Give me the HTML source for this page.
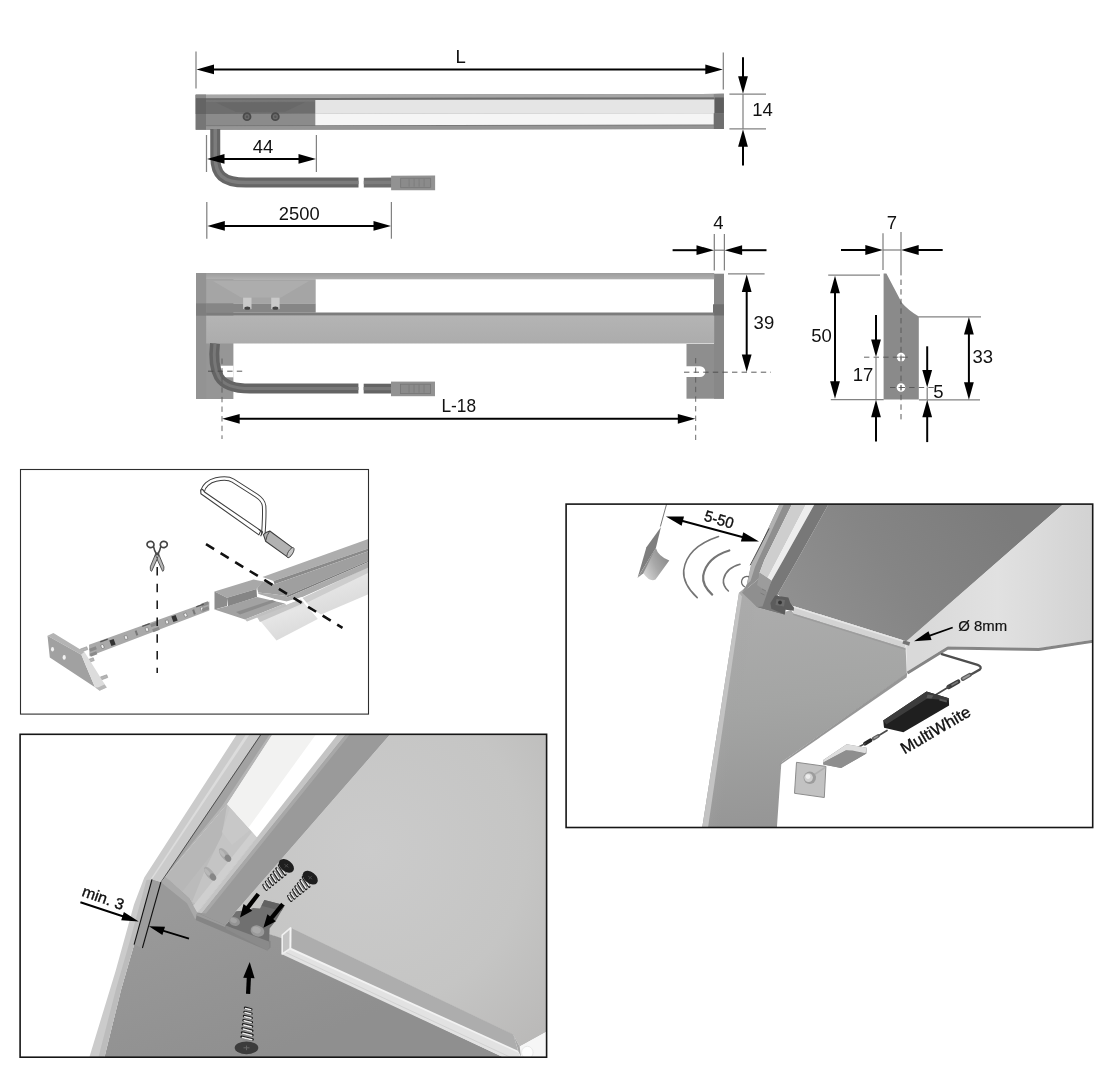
<!DOCTYPE html>
<html><head><meta charset="utf-8"><title>LED profile mounting diagram</title>
<style>
html,body{margin:0;padding:0;background:#fff;}
body{width:1110px;height:1080px;overflow:hidden;font-family:"Liberation Sans",sans-serif;}
svg{display:block;}
svg text{font-family:"Liberation Sans",sans-serif;fill:#111;}
</style></head><body>
<svg width="1110" height="1080" viewBox="0 0 1110 1080">
<g opacity="0.999">
<defs>
<linearGradient id="gbody" x1="0" y1="0" x2="0" y2="1"><stop offset="0" stop-color="#b4b4b4"/><stop offset="1" stop-color="#acacac"/></linearGradient>
<linearGradient id="gstrip" x1="0" y1="0" x2="0" y2="1"><stop offset="0" stop-color="#9c9c9c"/><stop offset="1" stop-color="#b0b0b0"/></linearGradient>
</defs>
<g id="topview"><g transform="rotate(-0.09 196 112)">
<rect x="195.7" y="94.7" width="528.2" height="35.1" fill="#8a8a8a" />
<rect x="195.7" y="94.7" width="528.2" height="3.5" fill="#a6a6a6" />
<rect x="206.0" y="98.2" width="508.0" height="2.2" fill="#6c6c6c" />
<rect x="206.0" y="100.4" width="109.5" height="13.6" fill="#6e6e6e" />
<rect x="206.0" y="100.4" width="109.5" height="1.4" fill="#7a7a7a" />
<rect x="206.0" y="114.0" width="109.5" height="11.4" fill="#8b8b8b" />
<polygon points="216.0,102.5 305.0,102.5 285.0,112.0 236.0,112.0" fill="#686868" />
<rect x="195.7" y="94.7" width="10.3" height="35.1" fill="#767676" />
<rect x="195.7" y="94.7" width="10.3" height="3.5" fill="#888888" />
<rect x="195.7" y="98.2" width="10.3" height="15.8" fill="#646464" />
<rect x="206.0" y="125.4" width="518.0" height="0.9" fill="#707070" />
<rect x="206.0" y="126.2" width="518.0" height="3.6" fill="#959595" />
<rect x="315.3" y="100.2" width="399.3" height="13.8" fill="#e5e5e5" />
<rect x="315.3" y="114.0" width="398.5" height="11.4" fill="#f5f5f5" />
<rect x="714.6" y="98.0" width="9.3" height="16.0" fill="#5e5e5e" />
<rect x="713.8" y="114.0" width="10.1" height="15.8" fill="#6f6f6f" />
<rect x="713.8" y="94.7" width="10.1" height="3.4" fill="#8c8c8c" />
<circle cx="247.0" cy="116.8" r="4.4" fill="#4a4a4a"/>
<circle cx="247.0" cy="116.8" r="2.6" fill="#6a6a6a"/>
<circle cx="247.0" cy="116.8" r="1.2" fill="#555"/>
<circle cx="275.3" cy="116.8" r="4.4" fill="#4a4a4a"/>
<circle cx="275.3" cy="116.8" r="2.6" fill="#6a6a6a"/>
<circle cx="275.3" cy="116.8" r="1.2" fill="#555"/>
<path d="M215.2 129 V157 C215.2 174 222 182.7 246 182.7 H358.4" fill="none" stroke="#666666" stroke-width="10"/>
<path d="M215.2 129 V157 C215.2 174 222 182.7 246 182.7 H358.4" fill="none" stroke="#7c7c7c" stroke-width="3.5"/>
<rect x="363.7" y="177.9" width="28.0" height="9.8" fill="#6e6e6e" />
<rect x="363.7" y="181.0" width="28.0" height="3.4" fill="#7c7c7c" />
<rect x="391.0" y="176.0" width="44.0" height="14.6" fill="#929292" />
<rect x="400.5" y="178.6" width="30.0" height="9.4" fill="#8b8b8b" stroke="#767676" stroke-width="0.8"/>
<line x1="409.0" y1="179.0" x2="409.0" y2="187.0" stroke="#7a7a7a" stroke-width="0.80" />
<line x1="414.0" y1="179.0" x2="414.0" y2="187.0" stroke="#7a7a7a" stroke-width="0.80" />
<line x1="419.0" y1="179.0" x2="419.0" y2="187.0" stroke="#7a7a7a" stroke-width="0.80" />
<line x1="424.0" y1="179.0" x2="424.0" y2="187.0" stroke="#7a7a7a" stroke-width="0.80" />
</g>
</g>
<line x1="196.0" y1="51.5" x2="196.0" y2="88.5" stroke="#828282" stroke-width="1.25" />
<line x1="723.3" y1="52.5" x2="723.3" y2="89.5" stroke="#828282" stroke-width="1.25" />
<polygon points="196.5,69.4 214.0,64.5 214.0,74.3" fill="#000" />
<line x1="213.0" y1="69.4" x2="706.3" y2="69.4" stroke="#000" stroke-width="2.00" />
<polygon points="722.8,69.4 705.3,74.3 705.3,64.5" fill="#000" />
<text x="460.6" y="62.8" font-size="18.5" text-anchor="middle" >L</text>
<line x1="729.4" y1="94.1" x2="766.0" y2="94.1" stroke="#828282" stroke-width="1.25" />
<line x1="729.4" y1="128.9" x2="766.0" y2="128.9" stroke="#828282" stroke-width="1.25" />
<line x1="743.0" y1="94.0" x2="743.0" y2="129.0" stroke="#828282" stroke-width="1.25" />
<line x1="743.0" y1="57.2" x2="743.0" y2="77.3" stroke="#000" stroke-width="2.00" />
<polygon points="743.0,93.8 738.1,76.3 747.9,76.3" fill="#000" />
<line x1="743.0" y1="165.6" x2="743.0" y2="145.7" stroke="#000" stroke-width="2.00" />
<polygon points="743.0,129.2 747.9,146.7 738.1,146.7" fill="#000" />
<text x="762.6" y="115.9" font-size="18.5" text-anchor="middle" >14</text>
<line x1="206.5" y1="135.0" x2="206.5" y2="172.0" stroke="#828282" stroke-width="1.25" />
<line x1="316.4" y1="135.0" x2="316.4" y2="172.0" stroke="#828282" stroke-width="1.25" />
<polygon points="207.0,158.9 224.5,154.0 224.5,163.8" fill="#000" />
<line x1="223.5" y1="158.9" x2="299.5" y2="158.9" stroke="#000" stroke-width="2.00" />
<polygon points="316.0,158.9 298.5,163.8 298.5,154.0" fill="#000" />
<text x="263.1" y="152.9" font-size="18.5" text-anchor="middle" >44</text>
<line x1="206.8" y1="202.0" x2="206.8" y2="238.7" stroke="#828282" stroke-width="1.25" />
<line x1="391.4" y1="202.0" x2="391.4" y2="238.7" stroke="#828282" stroke-width="1.25" />
<polygon points="207.3,225.9 224.8,221.0 224.8,230.8" fill="#000" />
<line x1="223.8" y1="225.9" x2="374.5" y2="225.9" stroke="#000" stroke-width="2.00" />
<polygon points="391.0,225.9 373.5,230.8 373.5,221.0" fill="#000" />
<text x="299.2" y="220.1" font-size="18.5" text-anchor="middle" textLength="40.8" lengthAdjust="spacingAndGlyphs">2500</text>
<g id="frontview">
<rect x="196.0" y="273.0" width="37.4" height="126.0" fill="#969696" />
<rect x="220.5" y="365.7" width="13.0" height="11.6" fill="#fff" />
<rect x="686.5" y="344.0" width="37.5" height="54.7" fill="#8e8e8e" />
<path d="M686 366.3 H700 a5.35 5.35 0 0 1 0 10.7 H686 Z" fill="#fff"/>
<rect x="196.0" y="273.0" width="10.2" height="126.0" fill="#939393" />
<rect x="196.0" y="303.4" width="10.2" height="12.3" fill="#7e7e7e" />
<rect x="714.0" y="273.7" width="10.0" height="125.0" fill="#888888" />
<rect x="713.0" y="304.3" width="11.0" height="11.2" fill="#707070" />
<rect x="206.2" y="273.0" width="508.0" height="6.3" fill="url(#gstrip)" />
<rect x="206.2" y="279.2" width="109.5" height="24.2" fill="#a5a5a5" />
<polygon points="213.0,281.0 309.0,281.0 281.0,297.5 241.0,297.5" fill="#adadad" />
<rect x="206.2" y="303.4" width="109.5" height="9.2" fill="#868686" />
<rect x="206.2" y="312.5" width="508.0" height="3.3" fill="#7c7c7c" />
<rect x="206.2" y="315.7" width="508.0" height="27.8" fill="url(#gbody)" />
<rect x="243.1" y="297.6" width="8.4" height="11.5" fill="#c9c9c9" />
<ellipse cx="247.3" cy="308.2" rx="3" ry="1.6" fill="#444"/>
<rect x="271.2" y="297.6" width="8.4" height="11.5" fill="#c9c9c9" />
<ellipse cx="275.4" cy="308.2" rx="3" ry="1.6" fill="#444"/>
<path d="M215 343.5 C213.5 356 214 368 219 377 Q226 388.6 250 388.6 H358.4" fill="none" stroke="#646464" stroke-width="10"/>
<path d="M215 343.5 C213.5 356 214 368 219 377 Q226 388.6 250 388.6 H358.4" fill="none" stroke="#787878" stroke-width="3"/>
<rect x="363.7" y="383.7" width="28.0" height="9.8" fill="#646464" />
<rect x="363.7" y="387.0" width="28.0" height="3.2" fill="#787878" />
<rect x="391.0" y="381.6" width="44.0" height="14.6" fill="#929292" />
<rect x="400.5" y="384.2" width="30.0" height="9.4" fill="#8b8b8b" stroke="#767676" stroke-width="0.8"/>
<line x1="409.0" y1="384.7" x2="409.0" y2="392.7" stroke="#7a7a7a" stroke-width="0.80" />
<line x1="414.0" y1="384.7" x2="414.0" y2="392.7" stroke="#7a7a7a" stroke-width="0.80" />
<line x1="419.0" y1="384.7" x2="419.0" y2="392.7" stroke="#7a7a7a" stroke-width="0.80" />
<line x1="424.0" y1="384.7" x2="424.0" y2="392.7" stroke="#7a7a7a" stroke-width="0.80" />
</g>
<line x1="208.0" y1="371.2" x2="245.0" y2="371.2" stroke="#4a4a4a" stroke-width="0.90" stroke-dasharray="5.4 4.2"/>
<line x1="222.0" y1="358.5" x2="222.0" y2="439.0" stroke="#5a5a5a" stroke-width="0.90" stroke-dasharray="5.4 4.2"/>
<line x1="684.0" y1="372.2" x2="771.0" y2="372.2" stroke="#4a4a4a" stroke-width="0.90" stroke-dasharray="5.4 4.2"/>
<line x1="695.7" y1="358.0" x2="695.7" y2="440.0" stroke="#5a5a5a" stroke-width="0.90" stroke-dasharray="5.4 4.2"/>
<line x1="714.3" y1="234.0" x2="714.3" y2="270.4" stroke="#828282" stroke-width="1.25" />
<line x1="724.4" y1="234.0" x2="724.4" y2="270.4" stroke="#828282" stroke-width="1.25" />
<line x1="714.0" y1="250.2" x2="724.4" y2="250.2" stroke="#828282" stroke-width="1.25" />
<line x1="672.6" y1="250.2" x2="697.5" y2="250.2" stroke="#000" stroke-width="2.00" />
<polygon points="714.0,250.2 696.5,255.1 696.5,245.3" fill="#000" />
<line x1="766.5" y1="250.2" x2="741.1" y2="250.2" stroke="#000" stroke-width="2.00" />
<polygon points="724.6,250.2 742.1,245.3 742.1,255.1" fill="#000" />
<text x="718.3" y="229.2" font-size="18.5" text-anchor="middle" >4</text>
<line x1="728.0" y1="273.9" x2="764.6" y2="273.9" stroke="#828282" stroke-width="1.25" />
<polygon points="746.7,274.6 751.6,292.1 741.8,292.1" fill="#000" />
<line x1="746.7" y1="291.1" x2="746.7" y2="355.5" stroke="#000" stroke-width="2.00" />
<polygon points="746.7,372.0 741.8,354.5 751.6,354.5" fill="#000" />
<text x="763.9" y="328.6" font-size="18.5" text-anchor="middle" >39</text>
<polygon points="222.2,418.8 239.7,413.9 239.7,423.7" fill="#000" />
<line x1="238.7" y1="418.8" x2="678.8" y2="418.8" stroke="#000" stroke-width="2.00" />
<polygon points="695.3,418.8 677.8,423.7 677.8,413.9" fill="#000" />
<text x="458.8" y="411.8" font-size="18.5" text-anchor="middle" textLength="34.6" lengthAdjust="spacingAndGlyphs">L-18</text>
<path d="M883.6 273.5 H886.4 L901.6 302.4 Q908 310 918.8 316.4 V399.5 H883.6 Z" fill="#8a8a8a"/>
<circle cx="901" cy="357.1" r="4.3" fill="#fff"/>
<line x1="898.5" y1="357.1" x2="903.5" y2="357.1" stroke="#777" stroke-width="0.80" />
<line x1="901.0" y1="354.6" x2="901.0" y2="359.6" stroke="#777" stroke-width="0.80" />
<circle cx="901" cy="387.5" r="4.3" fill="#fff"/>
<line x1="898.5" y1="387.5" x2="903.5" y2="387.5" stroke="#777" stroke-width="0.80" />
<line x1="901.0" y1="385.0" x2="901.0" y2="390.0" stroke="#777" stroke-width="0.80" />
<line x1="901.0" y1="232.0" x2="901.0" y2="270.0" stroke="#828282" stroke-width="1.25" />
<line x1="901.0" y1="270.0" x2="901.0" y2="419.5" stroke="#5a5a5a" stroke-width="1.00" stroke-dasharray="5.4 4.2"/>
<line x1="864.0" y1="357.2" x2="911.0" y2="357.2" stroke="#555" stroke-width="0.90" stroke-dasharray="5.4 4.2"/>
<line x1="890.0" y1="387.5" x2="934.0" y2="387.5" stroke="#555" stroke-width="0.90" stroke-dasharray="5.4 4.2"/>
<line x1="883.0" y1="233.2" x2="883.0" y2="270.0" stroke="#828282" stroke-width="1.25" />
<line x1="883.0" y1="250.0" x2="901.0" y2="250.0" stroke="#828282" stroke-width="1.25" />
<line x1="841.0" y1="250.0" x2="866.3" y2="250.0" stroke="#000" stroke-width="2.00" />
<polygon points="882.8,250.0 865.3,254.9 865.3,245.1" fill="#000" />
<line x1="942.7" y1="250.0" x2="917.7" y2="250.0" stroke="#000" stroke-width="2.00" />
<polygon points="901.2,250.0 918.7,245.1 918.7,254.9" fill="#000" />
<text x="892.0" y="228.7" font-size="18.5" text-anchor="middle" >7</text>
<line x1="828.2" y1="275.2" x2="880.0" y2="275.2" stroke="#828282" stroke-width="1.25" />
<line x1="830.8" y1="399.6" x2="883.7" y2="399.6" stroke="#828282" stroke-width="1.25" />
<polygon points="835.0,275.8 839.9,293.3 830.1,293.3" fill="#000" />
<line x1="835.0" y1="292.3" x2="835.0" y2="382.3" stroke="#000" stroke-width="2.00" />
<polygon points="835.0,398.8 830.1,381.3 839.9,381.3" fill="#000" />
<text x="821.6" y="341.5" font-size="18.5" text-anchor="middle" >50</text>
<line x1="918.4" y1="316.8" x2="981.0" y2="316.8" stroke="#828282" stroke-width="1.25" />
<line x1="918.9" y1="399.9" x2="980.0" y2="399.9" stroke="#828282" stroke-width="1.25" />
<polygon points="968.9,317.0 973.8,334.5 964.0,334.5" fill="#000" />
<line x1="968.9" y1="333.5" x2="968.9" y2="383.2" stroke="#000" stroke-width="2.00" />
<polygon points="968.9,399.7 964.0,382.2 973.8,382.2" fill="#000" />
<text x="982.7" y="363.4" font-size="18.5" text-anchor="middle" >33</text>
<line x1="876.0" y1="357.0" x2="876.0" y2="399.5" stroke="#828282" stroke-width="1.25" />
<line x1="876.0" y1="315.1" x2="876.0" y2="340.5" stroke="#000" stroke-width="2.00" />
<polygon points="876.0,357.0 871.1,339.5 880.9,339.5" fill="#000" />
<line x1="876.0" y1="441.5" x2="876.0" y2="416.2" stroke="#000" stroke-width="2.00" />
<polygon points="876.0,399.7 880.9,417.2 871.1,417.2" fill="#000" />
<text x="863.0" y="381.2" font-size="18.5" text-anchor="middle" >17</text>
<line x1="927.2" y1="387.5" x2="927.2" y2="399.5" stroke="#828282" stroke-width="1.25" />
<line x1="927.2" y1="346.3" x2="927.2" y2="371.0" stroke="#000" stroke-width="2.00" />
<polygon points="927.2,387.5 922.3,370.0 932.1,370.0" fill="#000" />
<line x1="927.2" y1="442.1" x2="927.2" y2="416.2" stroke="#000" stroke-width="2.00" />
<polygon points="927.2,399.7 932.1,417.2 922.3,417.2" fill="#000" />
<text x="938.3" y="397.7" font-size="18.5" text-anchor="middle" >5</text>
<defs><clipPath id="c1"><rect x="20.5" y="469.5" width="348" height="244.5"/></clipPath>
<linearGradient id="gdiff" x1="0" y1="0" x2="0.4" y2="1"><stop offset="0" stop-color="#d4d4d4"/><stop offset="0.45" stop-color="#e6e6e6"/><stop offset="1" stop-color="#dadada"/></linearGradient>
</defs>
<g clip-path="url(#c1)">
<polygon points="301.5,598.5 370.0,566.3 370.0,593.5 321.0,614.5 309.0,607.0" fill="url(#gdiff)" />
<polygon points="301.5,598.5 370.0,566.3 370.0,572.0 305.0,603.5" fill="#cdcdcd" />
<polygon points="257.0,617.0 302.0,598.5 317.8,619.0 276.5,640.5" fill="url(#gdiff)" />
<polygon points="257.0,617.0 302.0,598.5 305.0,602.5 260.0,622.0" fill="#c6c6c6" />
<polygon points="262.5,577.0 370.0,538.5 370.0,548.0 273.5,581.0" fill="#adadad" />
<polygon points="273.5,581.0 370.0,548.0 370.0,550.6 274.5,584.2" fill="#8a8a8a" />
<polygon points="257.0,588.5 262.3,581.5 274.5,584.2 370.0,550.6 370.0,560.0 286.0,596.0 272.0,594.0 258.0,592.5" fill="#9f9f9f" />
<polygon points="286.0,596.0 370.0,560.0 370.0,561.3 287.0,597.4" fill="#7e7e7e" />
<polygon points="258.0,592.5 272.0,594.0 286.0,596.0 287.0,597.4 370.0,561.3 370.0,566.8 301.3,597.6 286.7,601.9 273.9,599.3 257.6,594.2" fill="#ababab" />
<path d="M258.3 580.5 L255.9 589.1 L257.6 594.8 L273.9 599.9 L286.7 602.6 L301.3 598.2 L309.8 607.9 L317.5 616.4" fill="none" stroke="#fff" stroke-width="2.2" stroke-linejoin="round"/>
<polygon points="214.5,591.6 253.5,579.5 263.5,581.5 256.5,589.0 227.0,597.8" fill="#a8a8a8" />
<polygon points="214.5,591.6 227.0,597.8 227.0,606.0 214.5,609.6" fill="#8c8c8c" />
<polygon points="227.0,597.8 256.5,589.0 257.0,597.0 228.0,606.5" fill="#858585" />
<polygon points="214.5,609.6 228.0,606.0 257.0,597.0 285.0,603.5 245.0,619.5" fill="#a2a2a2" />
<polygon points="236.0,612.0 272.0,600.0 276.0,601.5 240.0,614.5" fill="#8c8c8c" />
<polygon points="245.0,619.5 285.0,603.5 287.0,606.0 247.0,621.5" fill="#c0c0c0" />
<polygon points="89.0,644.8 209.3,601.5 209.3,610.5 89.5,656.2" fill="#a9a9a9" />
<rect x="101.2" y="644.7" width="2.6" height="3.6" fill="#f4f4f4" stroke="#666" stroke-width="0.5" transform="rotate(-20 102.5 646.5)"/>
<rect x="124.7" y="635.7" width="2.6" height="3.6" fill="#f4f4f4" stroke="#666" stroke-width="0.5" transform="rotate(-20 126.0 637.5)"/>
<rect x="145.7" y="627.7" width="2.6" height="3.6" fill="#f4f4f4" stroke="#666" stroke-width="0.5" transform="rotate(-20 147.0 629.5)"/>
<rect x="165.7" y="620.2" width="2.6" height="3.6" fill="#f4f4f4" stroke="#666" stroke-width="0.5" transform="rotate(-20 167.0 622.0)"/>
<rect x="184.2" y="613.2" width="2.6" height="3.6" fill="#f4f4f4" stroke="#666" stroke-width="0.5" transform="rotate(-20 185.5 615.0)"/>
<rect x="200.7" y="607.2" width="2.6" height="3.6" fill="#f4f4f4" stroke="#666" stroke-width="0.5" transform="rotate(-20 202.0 609.0)"/>
<rect x="110.2" y="639.5" width="4.6" height="6" fill="#333" transform="rotate(-20 112.5 642.5)"/>
<rect x="172.2" y="615.5" width="4.6" height="6" fill="#333" transform="rotate(-20 174.5 618.5)"/>
<rect x="135.5" y="630.5" width="2" height="5" fill="#777" transform="rotate(-20 136.5 633.0)"/>
<rect x="193.0" y="609.5" width="2" height="5" fill="#777" transform="rotate(-20 194.0 612.0)"/>
<rect x="89.5" y="647.4" width="7" height="3.2" fill="#8a8a8a" transform="rotate(-20 93.0 649.0)"/>
<rect x="90.0" y="652.4" width="7" height="3.2" fill="#8a8a8a" transform="rotate(-20 93.5 654.0)"/>
<rect x="150.5" y="622.9" width="7" height="3.2" fill="#8a8a8a" transform="rotate(-20 154.0 624.5)"/>
<rect x="152.5" y="627.9" width="7" height="3.2" fill="#8a8a8a" transform="rotate(-20 156.0 629.5)"/>
<rect x="201.5" y="602.4" width="7" height="3.2" fill="#8a8a8a" transform="rotate(-20 205.0 604.0)"/>
<rect x="202.0" y="607.4" width="7" height="3.2" fill="#8a8a8a" transform="rotate(-20 205.5 609.0)"/>
<rect x="100.0" y="639.9" width="8" height="1.2" fill="#555" transform="rotate(-20 104.0 640.5)"/>
<rect x="142.0" y="624.4" width="8" height="1.2" fill="#555" transform="rotate(-20 146.0 625.0)"/>
<rect x="196.0" y="604.9" width="8" height="1.2" fill="#555" transform="rotate(-20 200.0 605.5)"/>
<rect x="80.5" y="648.0" width="7" height="3" fill="#b5b5b5" stroke="#909090" stroke-width="0.5" transform="rotate(-20 83.5 649.5)"/>
<rect x="87.0" y="659.0" width="7" height="3" fill="#b5b5b5" stroke="#909090" stroke-width="0.5" transform="rotate(-20 90.0 660.5)"/>
<rect x="100.5" y="676.0" width="7" height="3" fill="#b5b5b5" stroke="#909090" stroke-width="0.5" transform="rotate(-20 103.5 677.5)"/>
<polygon points="47.5,635.8 53.4,633.0 84.5,652.0 81.4,654.7" fill="#b4b4b4" />
<polygon points="47.5,635.8 81.4,654.7 86.0,666.0 95.0,687.2 49.8,657.4" fill="#a1a1a1" />
<polygon points="81.4,654.7 84.5,652.0 106.8,687.5 99.6,690.8 95.0,687.2 86.0,666.0" fill="#dcdcdc" />
<polygon points="95.0,687.2 99.6,690.8 106.8,687.5 104.5,684.5 98.0,687.5" fill="#b8b8b8" />
<ellipse cx="52.5" cy="649.3" rx="1.5" ry="2.2" fill="#f2f2f2"/>
<ellipse cx="64.2" cy="657.4" rx="1.6" ry="2.4" fill="#f2f2f2"/>
<g fill="#b6b6b6" stroke="#444" stroke-width="0.9" stroke-linejoin="round">
<path d="M158.9 554.6 L156.9 558.8 L162.6 571.3 Q163.7 571.1 163.8 569.6 L163.9 566.8 Z"/>
<path d="M155.3 554.6 L157.3 558.8 L151.6 571.3 Q150.5 571.1 150.4 569.6 L150.3 566.8 Z"/>
</g>
<g fill="none" stroke="#444" stroke-width="1.7" stroke-linecap="round">
<ellipse cx="150.5" cy="544.5" rx="3.5" ry="3.1" transform="rotate(10 150.5 544.5)"/>
<ellipse cx="163.8" cy="544.5" rx="3.5" ry="3.1" transform="rotate(-10 163.8 544.5)"/>
<path d="M153.6 546.8 Q154.4 550.5 156 553.2 M160.7 546.8 Q159.9 550.5 158.3 553.2" stroke-width="1.6"/>
</g>
<path d="M155 552.6 H159.4 L159 555.6 H155.4 Z" fill="#4a4a4a"/>
<line x1="157.2" y1="567.0" x2="157.2" y2="673.0" stroke="#111" stroke-width="1.50" stroke-dasharray="8.5 8.3"/>
<g fill="none" stroke="#3e3e3e" stroke-linecap="butt" stroke-linejoin="round">
<path d="M202.6 491.6 C203.5 486 209 481 216 479.5 C222 478.2 229 478 233 480.6 L256.5 495.6 C260.5 498.2 263.6 501.2 264.1 506 C264.7 514 263.9 526 263.3 535" stroke-width="4.5"/>
<path d="M202.6 491.6 C203.5 486 209 481 216 479.5 C222 478.2 229 478 233 480.6 L256.5 495.6 C260.5 498.2 263.6 501.2 264.1 506 C264.7 514 263.9 526 263.3 535" stroke="#fff" stroke-width="2.5"/>
<path d="M204.5 492 L260.8 530.6 L258.9 534.9 L200.9 493.8 L200.7 490 L202.6 489.4 Z" stroke-width="1.1" fill="#fff"/>
<path d="M258.6 529.2 L262.6 532 L260.6 536.2" stroke-width="1.1"/>
</g>
<path d="M263.4 534.6 L266 532.4 L269.8 531 L292.3 547.6 Q294.4 552.8 288.4 557.6 L265.6 541.2 L264.6 538 Z" fill="#b2b2b2" stroke="#3e3e3e" stroke-width="1.05" stroke-linejoin="round"/>
<path d="M269.8 531 Q266.6 535 265.6 541.2" fill="none" stroke="#3e3e3e" stroke-width="0.9"/>
<ellipse cx="290.5" cy="552.6" rx="2.3" ry="5.7" transform="rotate(32 290.5 552.6)" fill="#c6c6c6" stroke="#3e3e3e" stroke-width="0.8"/>
<line x1="206.0" y1="544.2" x2="342.5" y2="627.9" stroke="#111" stroke-width="2.60" stroke-dasharray="9.5 7.6"/>
</g>
<rect x="20.5" y="469.5" width="348.0" height="244.6" fill="none" stroke="#2e2e2e" stroke-width="1.1"/>
<defs><clipPath id="c2"><rect x="20" y="734.3" width="526.6" height="323"/></clipPath>
<radialGradient id="g2u" gradientUnits="userSpaceOnUse" cx="370" cy="850" r="260"><stop offset="0" stop-color="#cbcbcb"/><stop offset="0.6" stop-color="#c5c5c4"/><stop offset="1" stop-color="#b9b8b7"/></radialGradient>
<linearGradient id="g2s" gradientUnits="userSpaceOnUse" x1="200" y1="900" x2="260" y2="1057"><stop offset="0" stop-color="#999999"/><stop offset="1" stop-color="#8f8f8f"/></linearGradient>
<linearGradient id="g2d" gradientUnits="userSpaceOnUse" x1="250" y1="800" x2="300" y2="830"><stop offset="0" stop-color="#f0f0ef"/><stop offset="0.5" stop-color="#f4f4f3"/><stop offset="0.52" stop-color="#ffffff"/><stop offset="1" stop-color="#ffffff"/></linearGradient>
</defs>
<g clip-path="url(#c2)">
<polygon points="391.3,733.0 548.0,733.0 548.0,1031.0 519.7,1046.5 513.4,1035.0 290.2,928.0 282.2,935.5 282.2,938.8 269.8,934.6 262.0,925.0 236.0,911.3" fill="url(#g2u)" />
<polygon points="152.0,879.4 160.9,882.2 165.7,877.5 189.3,897.0 197.2,911.0 225.6,923.5 269.8,934.2 282.6,938.4 283.0,953.0 507.0,1059.0 104.0,1059.0 121.1,989.6 134.1,944.6" fill="url(#g2s)" />
<polygon points="237.7,733.0 261.8,733.0 160.9,882.2 152.0,879.4 134.1,944.6 121.1,989.6 104.0,1059.0 88.8,1059.0 115.6,971.0 134.0,904.4 144.3,877.6" fill="#cbcbcb" />
<polygon points="152.0,879.4 134.1,944.6 121.1,989.6 104.0,1059.0 98.0,1059.0 116.0,989.0 129.0,944.0 146.5,880.0" fill="#bcbcbc" />
<polygon points="247.0,733.0 250.5,733.0 153.0,878.0 150.0,880.0" fill="#dcdcdc" />
<polygon points="152.0,879.4 160.9,882.2 142.4,948.0 134.1,944.6" fill="#9d9d9d" />
<polygon points="261.4,733.0 273.6,733.0 227.1,804.2 165.7,876.6 160.9,882.2" fill="#b4b4b4" />
<polygon points="261.4,733.0 270.6,733.0 222.0,806.0 167.0,874.0 160.9,882.2" fill="#a2a2a2" />
<line x1="262.0" y1="733.0" x2="160.8" y2="882.4" stroke="#444" stroke-width="0.90" />
<polygon points="227.1,804.2 257.0,837.2 197.2,912.8 189.3,898.6 165.7,876.6" fill="#bbbbbb" />
<polygon points="227.1,804.2 236.0,814.0 215.0,850.0 182.0,892.0 165.7,876.6" fill="#b7b7b7" />
<polygon points="227.1,804.2 257.0,837.2 238.0,861.0 214.0,880.0 200.0,905.0 192.0,902.0 205.0,870.0 222.0,835.0" fill="#c4c4c4" />
<polygon points="230.0,807.5 250.0,830.0 232.0,845.0 222.0,832.0" fill="#c8c8c8" />
<polygon points="257.0,837.2 197.2,912.8 193.0,906.0 252.0,832.0" fill="#cfcfcf" />
<polygon points="273.3,733.0 338.8,733.0 257.0,837.2 227.1,804.2" fill="#f2f2f1" />
<polygon points="317.0,733.0 338.8,733.0 257.0,837.2 248.6,827.5" fill="#ffffff" />
<polygon points="338.8,733.0 347.5,733.0 202.0,913.0 197.2,912.8 257.0,837.2" fill="#c4c4c4" />
<polygon points="346.9,733.0 391.3,733.0 236.0,911.3 225.6,925.4 197.2,912.8 202.0,913.0" fill="#9a9a9a" />
<polygon points="346.9,733.0 351.0,733.0 206.0,913.5 202.0,913.0" fill="#a8a8a8" />
<polygon points="165.7,876.6 189.3,898.6 197.2,912.8 195.6,919.9 187.0,903.3 160.9,882.2" fill="#a9a9a9" />
<polygon points="197.2,912.8 225.6,925.4 270.6,941.0 270.6,947.5 267.3,950.6 195.6,919.9" fill="#858585" />
<polygon points="197.2,912.8 225.6,925.4 225.0,927.0 196.6,915.5" fill="#9c9c9c" />
<g transform="translate(224.8 855.0) rotate(-38)"><ellipse cx="0" cy="0" rx="3.7" ry="8.4" fill="#aaaaaa"/><ellipse cx="0.5" cy="4.4" rx="2.9" ry="3.8" fill="#868686"/><ellipse cx="-0.9" cy="-3" rx="1.7" ry="4.2" fill="#b8b8b8"/></g>
<g transform="translate(209.8 873.8) rotate(-38)"><ellipse cx="0" cy="0" rx="3.7" ry="8.4" fill="#aaaaaa"/><ellipse cx="0.5" cy="4.4" rx="2.9" ry="3.8" fill="#868686"/><ellipse cx="-0.9" cy="-3" rx="1.7" ry="4.2" fill="#b8b8b8"/></g>
<polygon points="225.6,925.4 236.0,911.3 248.1,910.3 253.0,908.0 260.0,908.5 264.4,900.0 284.8,905.2 276.0,920.5 269.6,928.5 269.0,945.5" fill="#707070" />
<polygon points="264.4,900.0 284.8,905.2 281.5,911.0 261.5,905.8" fill="#626262" />
<polygon points="225.6,925.4 269.0,941.5 269.0,947.5 267.3,950.6 226.0,929.0" fill="#8a8a8a" />
<ellipse cx="234.5" cy="921.5" rx="5.6" ry="4.2" fill="#949494" transform="rotate(20 234.5 921.5)"/>
<ellipse cx="233.6" cy="920.5" rx="3.4" ry="2.4" fill="#a4a4a4" transform="rotate(20 233.6 920.5)"/>
<ellipse cx="257.5" cy="931" rx="7" ry="5.4" fill="#9a9a9a" transform="rotate(20 257.5 931)"/>
<ellipse cx="256.5" cy="930" rx="4.4" ry="3.2" fill="#a9a9a9" transform="rotate(20 256.5 930)"/>
<polygon points="290.2,927.6 513.4,1034.6 518.5,1052.0 290.2,948.5" fill="#adadad" />
<polygon points="290.2,948.5 518.5,1052.0 521.0,1059.0 507.0,1059.0 281.4,953.9" fill="#e2e2e2" />
<polygon points="290.2,947.6 518.6,1051.0 519.0,1053.0 290.2,949.8" fill="#f2f2f2" />
<line x1="286.0" y1="952.5" x2="512.0" y2="1058.0" stroke="#cfcfcf" stroke-width="0.90" />
<path d="M290.6 927.8 L282.2 935.2 V953.9 L290.4 948.5 Z" fill="#c4c4c4" stroke="#f0f0f0" stroke-width="1.6" stroke-linejoin="round"/>
<line x1="290.5" y1="928.0" x2="290.4" y2="948.5" stroke="#f4f4f4" stroke-width="1.60" />
<polygon points="519.7,1046.5 548.0,1031.0 548.0,1059.0 521.0,1059.0" fill="#f6f6f6" />
<ellipse cx="527.3" cy="1052.5" rx="5.8" ry="6.2" fill="#fdfdfd" stroke="#e4e4e4" stroke-width="0.8"/>
<polygon points="513.4,1035.0 519.7,1046.5 521.0,1057.0 518.5,1051.5" fill="#a8a8a8" />
<polygon points="280.8,864.7 262.7,887.9 264.5,889.7 287.6,871.3" fill="#8a8a8a" />
<line x1="279.1" y1="865.3" x2="285.3" y2="874.7" stroke="#1c1c1c" stroke-width="2.6" stroke-linecap="round"/>
<line x1="279.9" y1="865.6" x2="285.2" y2="873.7" stroke="#ececec" stroke-width="1.5" stroke-linecap="round"/>
<line x1="276.5" y1="868.6" x2="282.2" y2="877.2" stroke="#1c1c1c" stroke-width="2.6" stroke-linecap="round"/>
<line x1="277.3" y1="868.9" x2="282.1" y2="876.2" stroke="#ececec" stroke-width="1.5" stroke-linecap="round"/>
<line x1="273.9" y1="871.9" x2="279.0" y2="879.7" stroke="#1c1c1c" stroke-width="2.6" stroke-linecap="round"/>
<line x1="274.6" y1="872.1" x2="279.0" y2="878.8" stroke="#ececec" stroke-width="1.5" stroke-linecap="round"/>
<line x1="271.3" y1="875.2" x2="275.9" y2="882.2" stroke="#1c1c1c" stroke-width="2.6" stroke-linecap="round"/>
<line x1="272.0" y1="875.3" x2="275.9" y2="881.3" stroke="#ececec" stroke-width="1.5" stroke-linecap="round"/>
<line x1="268.7" y1="878.5" x2="272.8" y2="884.7" stroke="#1c1c1c" stroke-width="2.6" stroke-linecap="round"/>
<line x1="269.4" y1="878.6" x2="272.8" y2="883.9" stroke="#ececec" stroke-width="1.5" stroke-linecap="round"/>
<line x1="266.1" y1="881.8" x2="269.7" y2="887.2" stroke="#1c1c1c" stroke-width="2.6" stroke-linecap="round"/>
<line x1="266.7" y1="881.8" x2="269.8" y2="886.4" stroke="#ececec" stroke-width="1.5" stroke-linecap="round"/>
<line x1="263.5" y1="885.1" x2="266.5" y2="889.6" stroke="#1c1c1c" stroke-width="2.6" stroke-linecap="round"/>
<line x1="264.1" y1="885.0" x2="266.7" y2="889.0" stroke="#ececec" stroke-width="1.5" stroke-linecap="round"/>
<polygon points="304.6,876.7 287.5,898.9 289.3,900.7 311.4,883.3" fill="#8a8a8a" />
<line x1="303.0" y1="877.2" x2="309.2" y2="886.6" stroke="#1c1c1c" stroke-width="2.6" stroke-linecap="round"/>
<line x1="303.8" y1="877.5" x2="309.1" y2="885.6" stroke="#ececec" stroke-width="1.5" stroke-linecap="round"/>
<line x1="300.6" y1="880.4" x2="306.2" y2="889.0" stroke="#1c1c1c" stroke-width="2.6" stroke-linecap="round"/>
<line x1="301.3" y1="880.6" x2="306.1" y2="888.0" stroke="#ececec" stroke-width="1.5" stroke-linecap="round"/>
<line x1="298.1" y1="883.5" x2="303.2" y2="891.3" stroke="#1c1c1c" stroke-width="2.6" stroke-linecap="round"/>
<line x1="298.8" y1="883.7" x2="303.2" y2="890.4" stroke="#ececec" stroke-width="1.5" stroke-linecap="round"/>
<line x1="295.6" y1="886.7" x2="300.2" y2="893.7" stroke="#1c1c1c" stroke-width="2.6" stroke-linecap="round"/>
<line x1="296.3" y1="886.8" x2="300.3" y2="892.8" stroke="#ececec" stroke-width="1.5" stroke-linecap="round"/>
<line x1="293.2" y1="889.8" x2="297.2" y2="896.0" stroke="#1c1c1c" stroke-width="2.6" stroke-linecap="round"/>
<line x1="293.8" y1="889.9" x2="297.3" y2="895.2" stroke="#ececec" stroke-width="1.5" stroke-linecap="round"/>
<line x1="290.7" y1="893.0" x2="294.3" y2="898.4" stroke="#1c1c1c" stroke-width="2.6" stroke-linecap="round"/>
<line x1="291.3" y1="893.0" x2="294.4" y2="897.6" stroke="#ececec" stroke-width="1.5" stroke-linecap="round"/>
<line x1="288.3" y1="896.1" x2="291.3" y2="900.7" stroke="#1c1c1c" stroke-width="2.6" stroke-linecap="round"/>
<line x1="288.8" y1="896.1" x2="291.4" y2="900.0" stroke="#ececec" stroke-width="1.5" stroke-linecap="round"/>
<ellipse cx="286.4" cy="865.8" rx="8.6" ry="5.6" fill="#1e1e1e" transform="rotate(38 286.4 865.8)"/>
<path d="M284.4 864.3 l4 3 M288.0 864.0 l-3 3.4" stroke="#4a4a4a" stroke-width="0.9"/>
<ellipse cx="310.2" cy="877.7" rx="8.6" ry="5.6" fill="#1e1e1e" transform="rotate(38 310.2 877.7)"/>
<path d="M308.2 876.2 l4 3 M311.8 875.9 l-3 3.4" stroke="#4a4a4a" stroke-width="0.9"/>
<polygon points="251.7,1041.2 249.9,1006.6 246.5,1006.4 242.3,1040.8" fill="#8a8a8a" />
<line x1="252.6" y1="1039.4" x2="241.6" y2="1036.7" stroke="#1c1c1c" stroke-width="2.6" stroke-linecap="round"/>
<line x1="251.8" y1="1039.7" x2="242.3" y2="1037.4" stroke="#ececec" stroke-width="1.5" stroke-linecap="round"/>
<line x1="252.4" y1="1035.1" x2="242.1" y2="1032.6" stroke="#1c1c1c" stroke-width="2.6" stroke-linecap="round"/>
<line x1="251.7" y1="1035.5" x2="242.8" y2="1033.2" stroke="#ececec" stroke-width="1.5" stroke-linecap="round"/>
<line x1="252.2" y1="1030.8" x2="242.6" y2="1028.4" stroke="#1c1c1c" stroke-width="2.6" stroke-linecap="round"/>
<line x1="251.5" y1="1031.2" x2="243.2" y2="1029.1" stroke="#ececec" stroke-width="1.5" stroke-linecap="round"/>
<line x1="252.0" y1="1026.5" x2="243.1" y2="1024.3" stroke="#1c1c1c" stroke-width="2.6" stroke-linecap="round"/>
<line x1="251.4" y1="1026.9" x2="243.7" y2="1025.0" stroke="#ececec" stroke-width="1.5" stroke-linecap="round"/>
<line x1="251.8" y1="1022.2" x2="243.6" y2="1020.2" stroke="#1c1c1c" stroke-width="2.6" stroke-linecap="round"/>
<line x1="251.2" y1="1022.6" x2="244.1" y2="1020.8" stroke="#ececec" stroke-width="1.5" stroke-linecap="round"/>
<line x1="251.6" y1="1018.0" x2="244.1" y2="1016.1" stroke="#1c1c1c" stroke-width="2.6" stroke-linecap="round"/>
<line x1="251.0" y1="1018.3" x2="244.6" y2="1016.7" stroke="#ececec" stroke-width="1.5" stroke-linecap="round"/>
<line x1="251.4" y1="1013.7" x2="244.6" y2="1012.0" stroke="#1c1c1c" stroke-width="2.6" stroke-linecap="round"/>
<line x1="250.9" y1="1014.0" x2="245.0" y2="1012.6" stroke="#ececec" stroke-width="1.5" stroke-linecap="round"/>
<line x1="251.2" y1="1009.4" x2="245.1" y2="1007.8" stroke="#1c1c1c" stroke-width="2.6" stroke-linecap="round"/>
<line x1="250.7" y1="1009.8" x2="245.5" y2="1008.5" stroke="#ececec" stroke-width="1.5" stroke-linecap="round"/>
<ellipse cx="246.5" cy="1047.8" rx="11.8" ry="6.4" fill="#3c3c3c"/>
<path d="M243.5 1047.8 h6 M246.5 1045.6 v4.6" stroke="#666" stroke-width="1"/>
<line x1="248.1" y1="993.8" x2="248.9" y2="977.0" stroke="#000" stroke-width="4.20" />
<polygon points="249.7,962.0 254.6,978.3 243.2,977.7" fill="#000" />
<line x1="258.3" y1="894.0" x2="247.4" y2="908.1" stroke="#000" stroke-width="4.20" />
<polygon points="240.0,917.6 243.6,904.0 252.3,910.7" fill="#000" />
<line x1="282.8" y1="904.2" x2="271.0" y2="918.5" stroke="#000" stroke-width="4.20" />
<polygon points="263.4,927.8 267.4,914.3 275.9,921.3" fill="#000" />
<line x1="152.0" y1="879.4" x2="134.1" y2="944.6" stroke="#111" stroke-width="1.10" />
<line x1="160.9" y1="882.2" x2="142.4" y2="948.0" stroke="#111" stroke-width="1.10" />
<line x1="80.4" y1="902.2" x2="123.5" y2="916.5" stroke="#000" stroke-width="2.00" />
<polygon points="138.7,921.5 121.2,920.3 123.9,912.0" fill="#000" />
<line x1="189.0" y1="938.7" x2="162.8" y2="930.6" stroke="#000" stroke-width="1.80" />
<polygon points="148.9,926.3 165.0,926.8 162.4,935.0" fill="#000" />
<text font-size="15.6" transform="translate(81 895.8) rotate(19.3)" textLength="43.4" lengthAdjust="spacingAndGlyphs" stroke="#111" stroke-width="0.35">min. 3</text>
</g>
<rect x="20.1" y="734.3" width="526.5" height="322.9" fill="none" stroke="#161616" stroke-width="1.6"/>
<defs><clipPath id="c3"><rect x="566" y="504" width="526.7" height="323.5"/></clipPath>
<linearGradient id="g3u" gradientUnits="userSpaceOnUse" x1="780" y1="640" x2="1000" y2="500"><stop offset="0" stop-color="#939393"/><stop offset="0.5" stop-color="#858585"/><stop offset="1" stop-color="#7b7b7b"/></linearGradient>
<linearGradient id="g3w" gradientUnits="userSpaceOnUse" x1="920" y1="600" x2="1093" y2="600"><stop offset="0" stop-color="#d9d9d9"/><stop offset="0.45" stop-color="#e1e1e1"/><stop offset="1" stop-color="#d2d2d2"/></linearGradient>
<linearGradient id="g3p" gradientUnits="userSpaceOnUse" x1="760" y1="600" x2="790" y2="828"><stop offset="0" stop-color="#acacac"/><stop offset="0.45" stop-color="#a4a5a4"/><stop offset="1" stop-color="#959595"/></linearGradient>
<linearGradient id="g3p2" gradientUnits="userSpaceOnUse" x1="705" y1="700" x2="740" y2="706"><stop offset="0" stop-color="#b4b4b4" stop-opacity="0.7"/><stop offset="1" stop-color="#a0a0a0" stop-opacity="0"/></linearGradient>
<linearGradient id="g3f" gradientUnits="userSpaceOnUse" x1="643" y1="573" x2="669" y2="560"><stop offset="0" stop-color="#d4d4d4"/><stop offset="0.5" stop-color="#a8a8a8"/><stop offset="1" stop-color="#8c8c8c"/></linearGradient>
</defs>
<g clip-path="url(#c3)">
<polygon points="829.2,503.0 1064.6,503.0 907.0,641.6 793.0,606.0 777.5,594.6 797.3,560.0" fill="url(#g3u)" />
<polygon points="1064.6,503.0 1094.0,503.0 1094.0,639.6 1038.6,648.2 947.4,646.6 906.8,671.8 906.0,641.5" fill="url(#g3w)" />
<path d="M1094 641 L1038.6 649.6 L947.9 648 L907.5 673" fill="none" stroke="#858585" stroke-width="3" stroke-linejoin="round"/>
<polygon points="739.0,592.7 746.0,587.0 760.0,600.0 784.6,612.0 791.0,610.0 793.0,612.4 905.6,647.6 906.8,673.6 781.4,762.3 776.8,829.0 702.0,829.0" fill="url(#g3p)" />
<polygon points="739.0,592.7 746.0,587.0 760.0,600.0 784.6,612.0 791.0,610.0 793.0,612.4 905.6,647.6 906.8,673.6 781.4,762.3 776.8,829.0 702.0,829.0" fill="url(#g3p2)" />
<polygon points="739.0,592.7 702.0,829.0 707.8,829.0 742.0,596.4" fill="#c3c3c3" />
<polygon points="752.0,601.5 757.2,606.9 784.6,614.5 785.5,610.5 771.3,608.6 760.0,603.5" fill="#6e6e6e" />
<polygon points="907.5,672.5 781.4,762.3 778.6,766.0 906.5,677.5" fill="#979797" />
<polygon points="793.1,606.0 906.0,641.3 905.4,648.2 793.1,613.4" fill="#d3d3d3" />
<polygon points="793.1,606.0 906.0,641.3 906.0,642.8 793.1,607.6" fill="#e6e6e6" />
<polygon points="793.1,613.4 905.4,648.2 905.4,650.0 793.1,615.0" fill="#9d9d9d" />
<rect x="902.8" y="641.0" width="7.0" height="3.6" fill="#747474" transform="rotate(17 906 642.8)"/>
<polygon points="780.0,503.0 792.6,503.0 764.4,560.0 759.6,572.8 759.0,578.5 742.0,592.7 746.8,584.2 751.0,565.5 753.6,560.0" fill="#8f8f8f" />
<polygon points="780.0,503.0 784.5,503.0 758.1,560.0 755.0,567.0 750.5,581.0 746.8,584.2 751.0,565.5 753.6,560.0" fill="#b2b2b2" />
<polygon points="792.6,503.0 806.7,503.0 777.0,560.0 767.5,578.0 759.6,572.8 764.4,560.0" fill="#cecece" />
<polygon points="806.7,503.0 815.2,503.0 783.3,560.0 771.5,580.8 767.5,578.0 777.0,560.0" fill="#ededed" />
<polygon points="815.2,503.0 829.2,503.0 797.3,560.0 777.5,594.6 784.6,614.5 757.2,606.9 771.5,580.8 783.3,560.0" fill="#787878" />
<polygon points="742.0,592.7 759.0,578.5 759.6,572.8 767.5,578.0 771.5,580.8 762.5,606.5 757.2,606.9" fill="#8f8f8f" />
<polygon points="759.6,572.8 767.5,578.0 771.5,580.8 767.0,592.0 757.0,585.0" fill="#9c9c9c" />
<line x1="762.0" y1="589.0" x2="766.0" y2="591.0" stroke="#7d7d7d" stroke-width="1.00" />
<line x1="760.5" y1="593.0" x2="764.5" y2="595.0" stroke="#7d7d7d" stroke-width="1.00" />
<line x1="769.2" y1="528.4" x2="750.2" y2="565.3" stroke="#4a4a4a" stroke-width="1.00" />
<path d="M749 576.8 A5.2 5.2 0 0 0 745 587" fill="none" stroke="#6a6a6a" stroke-width="1.3"/>
<polygon points="770.4,603.1 775.1,595.5 788.4,597.4 790.3,603.1 794.0,607.8 793.7,610.7 785.5,609.7 784.6,614.5 771.3,608.8" fill="#5c5c5c" />
<polygon points="776.5,599.0 785.0,600.0 784.0,606.5 775.5,605.0" fill="#6c6c6c" />
<circle cx="780" cy="602.5" r="1.9" fill="#353535"/>
<line x1="666.6" y1="504.0" x2="660.4" y2="526.5" stroke="#555" stroke-width="0.80" />
<polygon points="661.0,527.0 646.4,547.3 637.6,577.8 655.9,548.0" fill="#7e7e7e" />
<path d="M655.9 548 Q658 556 669.3 560.6 L655.5 579.5 Q650 582.5 643.3 573.2 L637.6 577.8 Z" fill="url(#g3f)"/>
<polygon points="655.9,548.0 637.6,577.8 643.3,573.2" fill="#8c8c8c" />
<g fill="none" stroke="#757575" stroke-linecap="round">
<path d="M718.5 536.6 Q687 547 683.7 570.3 Q682.5 584 697.2 597.7" stroke-width="1.6"/>
<path d="M729.3 550.5 Q706.5 557.5 703.2 575.7 Q702 585.5 712.2 594.6" stroke-width="2.2"/>
<path d="M740 564.3 Q726 568 723.5 579.3 Q722.5 585.5 728.4 591" stroke-width="1.6"/>
</g>
<polygon points="665.9,516.6 684.0,516.5 681.6,525.7" fill="#000" />
<line x1="681.8" y1="520.8" x2="743.1" y2="537.2" stroke="#000" stroke-width="2.00" />
<polygon points="759.0,541.4 740.9,541.5 743.3,532.3" fill="#000" />
<text font-size="15.6" transform="translate(703.2 520.6) rotate(16)" textLength="29.8" lengthAdjust="spacingAndGlyphs" stroke="#111" stroke-width="0.35">5-50</text>
<line x1="952.7" y1="627.5" x2="929.1" y2="635.9" stroke="#000" stroke-width="1.70" />
<polygon points="914.0,641.2 928.5,631.2 931.6,639.9" fill="#000" />
<text x="958.3" y="631.4" font-size="15.5" text-anchor="start" textLength="48.8" lengthAdjust="spacingAndGlyphs" stroke="#111" stroke-width="0.2">Ø 8mm</text>
<g fill="none" stroke-linecap="round">
<path d="M941.8 654.2 L977.6 664.8 Q982.4 666.6 979.8 669.6 L971 674.6" stroke="#4e4e4e" stroke-width="2.3"/>
<line x1="969.6" y1="675.0" x2="962.8" y2="678.8" stroke="#5a5a5a" stroke-width="4.20" />
<line x1="969.2" y1="675.2" x2="963.2" y2="678.6" stroke="#9a9a9a" stroke-width="1.80" />
<line x1="958.2" y1="681.6" x2="948.6" y2="687.0" stroke="#3e3e3e" stroke-width="4.40" />
<line x1="957.4" y1="682.0" x2="952.0" y2="685.0" stroke="#777" stroke-width="1.60" />
<line x1="948.6" y1="687.0" x2="933.0" y2="696.5" stroke="#4a4a4a" stroke-width="1.70" />
<line x1="887.0" y1="730.5" x2="878.0" y2="736.0" stroke="#4a4a4a" stroke-width="1.70" />
<line x1="878.0" y1="736.0" x2="873.6" y2="738.6" stroke="#5e5e5e" stroke-width="3.60" />
<line x1="877.4" y1="736.3" x2="874.2" y2="738.2" stroke="#9a9a9a" stroke-width="1.40" />
<line x1="870.4" y1="740.4" x2="865.0" y2="743.6" stroke="#262626" stroke-width="4.00" />
<line x1="865.0" y1="743.6" x2="853.0" y2="750.0" stroke="#4a4a4a" stroke-width="1.60" />
</g>
<polygon points="883.2,720.6 926.5,691.5 948.8,698.3 949.1,705.5 903.4,732.2 884.0,727.8" fill="#1f1f1f" />
<polygon points="883.2,720.6 926.5,691.5 948.8,698.3 947.4,700.2 927.2,698.6 886.3,724.4" fill="#3c3c3c" />
<polygon points="927.6,694.6 933.4,695.4 931.6,698.6 926.4,698.2" fill="#5a5a5a" />
<polygon points="939.6,698.6 947.2,700.6 946.6,702.6 939.2,700.6" fill="#555" />
<text font-size="16.3" transform="translate(904.6 754.4) rotate(-30.3)" textLength="78" lengthAdjust="spacingAndGlyphs" stroke="#111" stroke-width="0.35">MultiWhite</text>
<polygon points="823.3,760.0 846.7,744.2 866.7,747.8 866.4,753.6 841.1,768.0 823.3,764.4" fill="#8c8c8c" />
<polygon points="823.3,760.0 846.7,744.2 866.7,747.8 865.6,753.2 857.0,751.6 852.5,750.6 846.0,750.2 823.3,762.4" fill="#dedede" />
<polygon points="823.3,762.4 846.0,750.4 865.6,753.6 866.4,753.6 841.1,768.0 823.3,764.4" fill="#8e8e8e" />
<polygon points="796.5,762.3 825.9,766.4 824.3,797.5 794.5,793.3" fill="#c2c2c2" stroke="#8c8c8c" stroke-width="1"/>
<line x1="813.0" y1="775.5" x2="825.0" y2="767.5" stroke="#b0b0b0" stroke-width="1.60" />
<circle cx="809.8" cy="777.8" r="6.2" fill="#9c9c9c"/>
<circle cx="808.6" cy="777.6" r="4.3" fill="#d0d0d0"/>
<circle cx="808" cy="776.6" r="2.4" fill="#ececec"/>
</g>
<rect x="566.1" y="504.1" width="526.6" height="323.4" fill="none" stroke="#161616" stroke-width="1.6"/>
</g>
</svg>
</body></html>
